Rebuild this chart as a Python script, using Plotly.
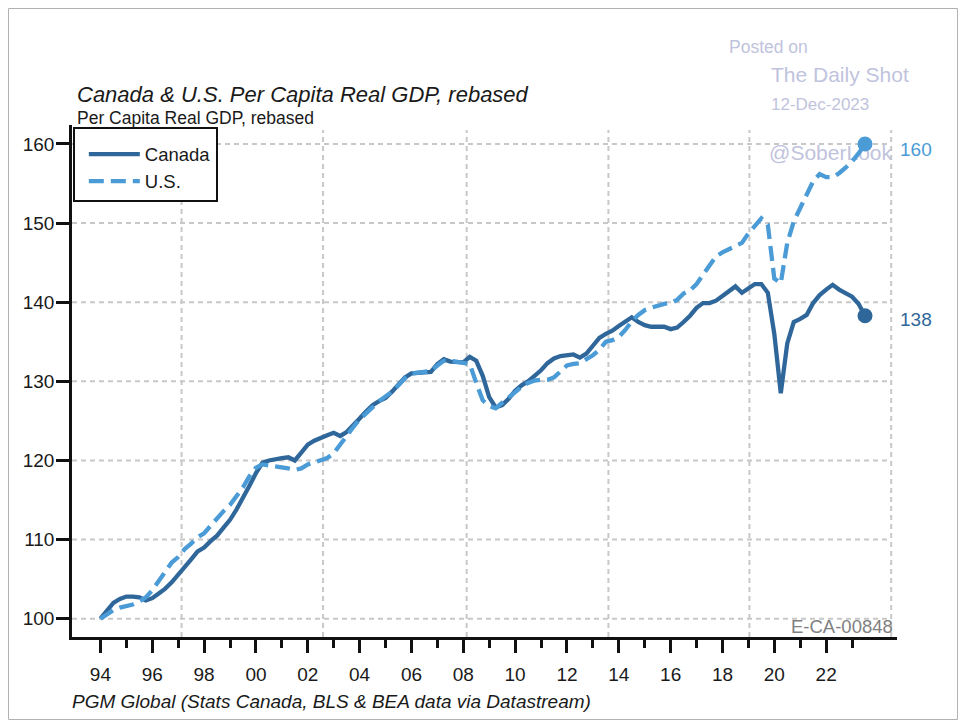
import plotly.graph_objects as go

# ---------------- data (quarterly, 1994Q1 = 100) ----------------
start_year = 1994
canada = [
    100.0, 101.0, 102.0, 102.5,   # 1994
    102.8, 102.8, 102.7, 102.3,   # 1995
    102.6, 103.2, 103.8, 104.6,   # 1996
    105.5, 106.5, 107.5, 108.5,   # 1997
    109.0, 109.8, 110.5, 111.5,   # 1998
    112.5, 113.8, 115.2, 116.8,   # 1999
    118.4, 119.7, 120.0, 120.2,   # 2000
    120.3, 120.4, 120.0, 121.0,   # 2001
    122.0, 122.5, 122.9, 123.2,   # 2002
    123.5, 123.1, 123.6, 124.4,   # 2003
    125.3, 126.2, 127.0, 127.5,   # 2004
    127.9, 128.7, 129.6, 130.5,   # 2005
    131.0, 131.1, 131.2, 131.2,   # 2006
    132.2, 132.8, 132.5, 132.4,   # 2007
    132.4, 133.1, 132.6, 130.7,   # 2008
    128.0, 126.7, 127.0, 127.8,   # 2009
    128.8, 129.5, 130.0, 130.7,   # 2010
    131.4, 132.3, 132.9, 133.2,   # 2011
    133.3, 133.4, 133.0, 133.5,   # 2012
    134.5, 135.5, 136.0, 136.4,   # 2013
    137.0, 137.6, 138.1, 137.5,   # 2014
    137.1, 136.9, 136.9, 136.9,   # 2015
    136.6, 136.8, 137.5, 138.3,   # 2016
    139.3, 139.9, 139.9, 140.2,   # 2017
    140.8, 141.4, 142.0, 141.2,   # 2018
    141.7, 142.3, 142.3, 141.2,   # 2019
    136.0, 128.5, 134.8, 137.5,   # 2020
    137.9, 138.4, 139.9, 140.9,   # 2021
    141.6, 142.2, 141.6, 141.1,   # 2022
    140.7, 139.8, 138.3,          # 2023
]
us = [
    100.0, 100.6, 101.1, 101.4,   # 1994
    101.6, 101.8, 102.2, 102.7,   # 1995
    103.6, 104.8, 106.0, 107.1,   # 1996
    107.8, 108.8, 109.5, 110.3,   # 1997
    110.8, 111.8, 112.8, 113.6,   # 1998
    114.4, 115.4, 116.6, 118.0,   # 1999
    119.1, 119.5, 119.4, 119.3,   # 2000
    119.2, 119.0, 118.8, 119.0,   # 2001
    119.5, 119.8, 120.1, 120.3,   # 2002
    120.9, 122.0, 123.3, 124.2,   # 2003
    125.2, 126.0, 126.8, 127.5,   # 2004
    128.1, 128.7, 129.5, 130.4,   # 2005
    131.0, 131.1, 131.2, 131.3,   # 2006
    132.0, 132.6, 132.6, 132.5,   # 2007
    132.3, 132.2, 129.8, 127.6,   # 2008
    126.9, 126.6, 127.3, 128.0,   # 2009
    128.7, 129.3, 129.8, 130.1,   # 2010
    130.2, 130.2, 130.5, 131.2,   # 2011
    132.0, 132.2, 132.3, 132.8,   # 2012
    133.3, 134.0, 135.0, 135.2,   # 2013
    135.6, 136.5, 137.6, 138.4,   # 2014
    139.0, 139.3, 139.6, 139.8,   # 2015
    139.9, 140.3, 141.1, 141.5,   # 2016
    142.3, 143.5, 144.7, 145.8,   # 2017
    146.3, 146.7, 147.0, 147.5,   # 2018
    148.7, 149.6, 150.6, 149.8,   # 2019
    143.0, 142.4, 147.5, 150.2,   # 2020
    152.0, 153.6, 155.3, 156.2,   # 2021
    155.8, 155.8, 156.3, 157.0,   # 2022
    157.8, 158.8, 160.0,          # 2023
]
series_names = ["Canada", "U.S."]

major_tick_years = list(range(1994, 2023, 2))
major_tick_labels = ["94", "96", "98", "00", "02", "04", "06", "08",
                     "10", "12", "14", "16", "18", "20", "22"]
minor_tick_years = list(range(1995, 2024, 2))
y_ticks = [100, 110, 120, 130, 140, 150, 160]
v_grid_years = [1997.13, 2002.59, 2008.13, 2013.60, 2019.04, 2024.51]

# ---------------- style ----------------
CAN_COLOR = "#30679a"
US_COLOR = "#4a9bd6"
GRID_COLOR = "#c8c8c8"
WM_COLOR = "#bfc3dd"
FONT = "Arial, Liberation Sans, sans-serif"
x_range = [1992.903, 2024.734]
y_range = [97.69, 162.4]

quarters = [start_year + i / 4 for i in range(len(canada))]

fig = go.Figure()

# watermark behind lines
fig.add_trace(go.Scatter(
    x=[2019.80], y=[158.6], mode="text", text=["@SoberLook"],
    textposition="middle right",
    textfont=dict(family=FONT, size=21, color=WM_COLOR),
    showlegend=False, hoverinfo="skip"))

fig.add_trace(go.Scatter(
    x=quarters, y=canada, name=series_names[0], mode="lines",
    line=dict(color=CAN_COLOR, width=4.3)))
fig.add_trace(go.Scatter(
    x=quarters, y=us, name=series_names[1], mode="lines",
    line=dict(color=US_COLOR, width=4.3, dash="15px,7px")))

# end markers
fig.add_trace(go.Scatter(
    x=[quarters[-1]], y=[canada[-1]], mode="markers",
    marker=dict(color=CAN_COLOR, size=15), showlegend=False, hoverinfo="skip"))
fig.add_trace(go.Scatter(
    x=[quarters[-1]], y=[us[-1]], mode="markers",
    marker=dict(color=US_COLOR, size=15), showlegend=False, hoverinfo="skip"))

shapes = []
for v in y_ticks:
    shapes.append(dict(type="line", xref="x", yref="y",
                       x0=x_range[0], x1=v_grid_years[-1], y0=v, y1=v,
                       line=dict(color=GRID_COLOR, width=2, dash="5px,4px"),
                       layer="below"))
for g in v_grid_years:
    shapes.append(dict(type="line", xref="x", yref="paper",
                       x0=g, x1=g, y0=0, y1=0.99,
                       line=dict(color=GRID_COLOR, width=2, dash="5px,4px"),
                       layer="below"))
# outer frame
shapes.append(dict(type="rect", xref="paper", yref="paper",
                   x0=-0.077, x1=1.0733, y0=-0.1611, y1=1.2275,
                   line=dict(color="#b0b0b0", width=1), layer="below"))

annotations = [
    dict(text="<i>Canada & U.S. Per Capita Real GDP, rebased</i>",
         x=0.0036, y=1.0605, xanchor="left", yanchor="middle",
         font=dict(family=FONT, size=22, color="#1a1a1a")),
    dict(text="Per Capita Real GDP, rebased",
         x=0.0036, y=1.0136, xanchor="left", yanchor="middle",
         font=dict(family=FONT, size=17.5, color="#1a1a1a")),
    dict(text="<i>PGM Global (Stats Canada, BLS & BEA data via Datastream)</i>",
         x=-0.002, y=-0.125, xanchor="left", yanchor="middle",
         font=dict(family=FONT, size=19, color="#1a1a1a")),
    dict(text="E-CA-00848", x=0.9976, y=0.020, xanchor="right", yanchor="middle",
         font=dict(family=FONT, size=18.5, color="#808080")),
    dict(text="Posted on", x=0.7939, y=1.1523, xanchor="left", yanchor="middle",
         font=dict(family=FONT, size=17.5, color=WM_COLOR)),
    dict(text="The Daily Shot", x=0.8448, y=1.0996, xanchor="left", yanchor="middle",
         font=dict(family=FONT, size=21, color=WM_COLOR)),
    dict(text="12-Dec-2023", x=0.8448, y=1.041, xanchor="left", yanchor="middle",
         font=dict(family=FONT, size=17, color=WM_COLOR)),
]
for a in annotations:
    a.update(xref="paper", yref="paper", showarrow=False)

# end value labels
for vals, col, ys in [(us, US_COLOR, -6), (canada, CAN_COLOR, -4)]:
    annotations.append(dict(
        x=quarters[-1], y=vals[-1], xref="x", yref="y",
        text=f"{round(vals[-1])}", showarrow=False,
        xanchor="left", yanchor="middle", xshift=33, yshift=ys,
        font=dict(family=FONT, size=19, color=col)))

fig.update_layout(
    width=950, height=712,
    margin=dict(l=64, r=61, t=117, b=83),
    paper_bgcolor="white", plot_bgcolor="white",
    font=dict(family=FONT, size=19, color="#1a1a1a"),
    shapes=shapes, annotations=annotations,
    showlegend=True,
    legend=dict(x=0.001, y=0.996, xanchor="left", yanchor="top",
                bgcolor="white", bordercolor="#111", borderwidth=2,
                font=dict(family=FONT, size=18.5, color="#1a1a1a"),
                title=dict(text=" ", font=dict(size=5)),
                itemwidth=51, indentation=9),
    xaxis=dict(range=x_range, showgrid=False, zeroline=False,
               showline=True, linecolor="#111", linewidth=2.5,
               ticks="outside", tickvals=major_tick_years, ticktext=major_tick_labels,
               ticklen=13, tickwidth=2.5, tickcolor="#111",
               tickfont=dict(family=FONT, size=19, color="#1a1a1a"),
               ticklabelstandoff=5,
               minor=dict(tickvals=minor_tick_years, ticks="outside",
                          ticklen=8, tickwidth=2.5, tickcolor="#111",
                          showgrid=False)),
    yaxis=dict(range=y_range, showgrid=False, zeroline=False,
               showline=True, linecolor="#111", linewidth=2.5,
               ticks="outside", tickvals=y_ticks,
               ticklen=13, tickwidth=2.5, tickcolor="#111",
               tickfont=dict(family=FONT, size=19, color="#1a1a1a"),
               ticklabelstandoff=-2),
)

fig.write_html("out.html")
